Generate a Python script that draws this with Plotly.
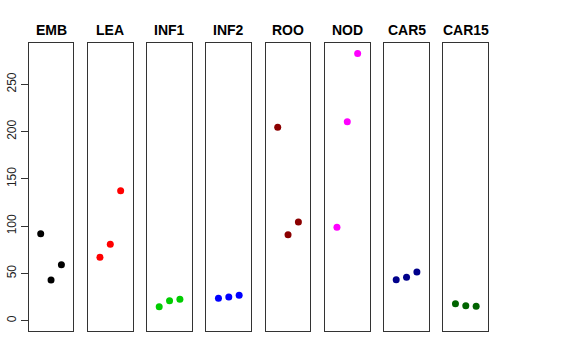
import plotly.graph_objects as go

categories = ["EMB", "LEA", "INF1", "INF2", "ROO", "NOD", "CAR5", "CAR15"]
colors = ["#000000", "#FF0000", "#00CD00", "#0000FF", "#8B0000", "#FF00FF", "#00008B", "#006400"]
positions = [1, 2, 3]

emb = [92.0, 43.1, 59.3]
lea = [67.1, 80.8, 137.5]
inf1 = [14.8, 21.2, 22.6]
inf2 = [23.7, 25.1, 26.9]
roo = [204.6, 91.0, 104.4]
nod = [98.8, 210.5, 282.5]
car5 = [43.4, 45.9, 51.5]
car15 = [18.0, 15.9, 15.2]
series = [emb, lea, inf1, inf2, roo, nod, car5, car15]

y_ticks = [0, 50, 100, 150, 200, 250]

W, H = 576, 360
fig = go.Figure()

left0, step, pw = 28.7, 59.25, 44.7
ytop, ybot = 43.3, 331.0
ydom = [(H - ybot) / H, (H - ytop) / H]

for i, (cat, col, vals) in enumerate(zip(categories, colors, series)):
    n = "" if i == 0 else str(i + 1)
    xl = left0 + step * i
    xdom = [xl / W, (xl + pw) / W]
    fig.add_trace(go.Scatter(
        x=positions, y=vals, mode="markers",
        marker=dict(color=col, size=7, line=dict(width=0)),
        xaxis="x" + n, yaxis="y" + n, showlegend=False, hoverinfo="y",
    ))
    fig.layout["xaxis" + n] = dict(
        domain=xdom, range=[-0.16, 4.16], showgrid=False, zeroline=False,
        showticklabels=False, ticks="", showline=True, mirror=True,
        linecolor="#333333", linewidth=1, anchor="y" + n, fixedrange=True,
        automargin=False,
    )
    yax = dict(
        domain=ydom, range=[-10.9, 293.4], showgrid=False, zeroline=False,
        showline=True, mirror=True, linecolor="#333333", linewidth=1,
        anchor="x" + n, fixedrange=True, automargin=False,
    )
    if i == 0:
        yax.update(
            tickvals=y_ticks, ticktext=[str(v) for v in y_ticks],
            ticks="outside", ticklen=7, tickcolor="#333333", tickangle=-90,
            tickfont=dict(family="Liberation Sans, Arial, sans-serif", size=12, color="#222222"),
            showticklabels=True,
        )
    else:
        yax.update(showticklabels=False, ticks="")
    fig.layout["yaxis" + n] = yax
    fig.add_annotation(
        x=(xl + pw / 2) / W, y=(H - 30) / H, xref="paper", yref="paper",
        text="<b>" + cat + "</b>", showarrow=False,
        font=dict(family="Liberation Sans, Arial, sans-serif", size=14, color="#000000"),
        xanchor="center", yanchor="middle",
    )

fig.update_layout(
    width=W, height=H, margin=dict(l=0, r=0, t=0, b=0, autoexpand=False),
    paper_bgcolor="white", plot_bgcolor="white",
)

fig.write_html("out.html", config={"displayModeBar": False},
               post_script="document.body.style.margin='0';document.body.style.padding='0';")
